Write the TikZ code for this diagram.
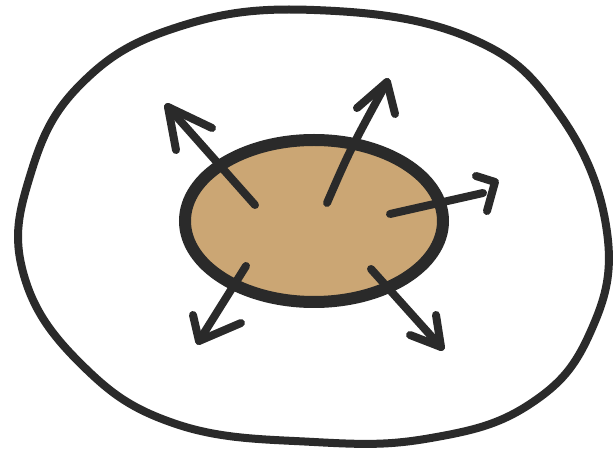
\documentclass[tikz,border=0pt]{standalone}
\definecolor{pencil}{HTML}{2A2A2A}
\definecolor{tan}{HTML}{CBA674}
\tikzset{
  ring/.style={draw=pencil, line width=8pt},
  core/.style={draw=pencil, fill=tan, line width=12pt},
  shaft/.style={draw=pencil, line width=8pt, line cap=round, line join=round},
}
\begin{document}
\begin{tikzpicture}[x=1pt,y=-1pt]
\useasboundingbox (0,0) rectangle (614,454);
\fill[white] (0,0) rectangle (614,454);
% outer ring
\draw[ring] plot[smooth cycle, tension=0.7] coordinates{
 (314,10) (470,38) (560,115) (607,232) (590,333) (530,404) (431,438)
 (314,442) (176,424) (80,363) (23,272) (30,176) (80,85) (178,27)};
% core
\draw[core] (314,221) ellipse [x radius=129, y radius=81];
% arrow coordinates
\coordinate (s1) at (255,205); \coordinate (t1) at (168,107);
\coordinate (s2) at (327,203); \coordinate (t2) at (387,82);
\coordinate (s3) at (390,214); \coordinate (t3) at (495,182);
\coordinate (s4) at (246,266); \coordinate (t4) at (199,341);
\coordinate (s5) at (371,269); \coordinate (t5) at (441,347);
\draw[shaft] (s1) -- (t1);
\draw[shaft] (212,128) -- (t1) -- (176,150);
\draw[shaft] (s2) .. controls (350,150) .. (t2);
\draw[shaft] (357,108) -- (t2) -- (395,114);
\draw[shaft] (s3) -- (483,193);
\draw[shaft] (476,176) -- (t3) -- (487,211);
\draw[shaft] (s4) -- (t4);
\draw[shaft] (193,315) -- (t4) -- (241,323);
\draw[shaft] (s5) -- (t5);
\draw[shaft] (410,335) -- (t5) -- (436,315);
\end{tikzpicture}
\end{document}
